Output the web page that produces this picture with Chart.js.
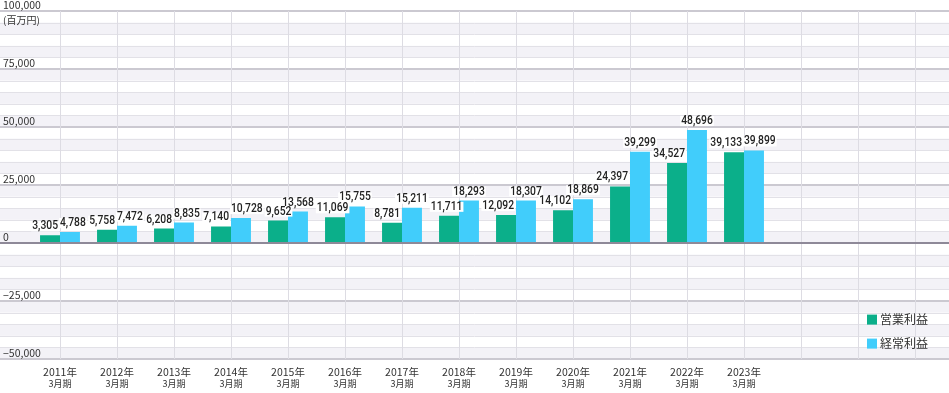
<!DOCTYPE html>
<html><head><meta charset="utf-8">
<script src="https://cdn.jsdelivr.net/npm/chart.js@4/dist/chart.umd.min.js"></script>
<style>html,body{margin:0;padding:0;background:#fff;}#wrap{width:949px;height:393px;position:relative;}</style>
</head><body><div id="wrap"><canvas id="c"></canvas></div>
<script>
// ---- data ----
const yearLabels = ['2011年','2012年','2013年','2014年','2015年','2016年','2017年','2018年','2019年','2020年','2021年','2022年','2023年','','',''];
const periodLabels = ['3月期','3月期','3月期','3月期','3月期','3月期','3月期','3月期','3月期','3月期','3月期','3月期','3月期','','',''];
const operatingProfit = [3305,5758,6208,7140,9652,11069,8781,11711,12092,14102,24397,34527,39133];
const ordinaryProfit  = [4788,7472,8835,10728,13568,15755,15211,18293,18307,18869,39299,48696,39899];
const seriesNames = ['営業利益','経常利益'];
const yMin = -50000, yMax = 100000, yMajorStep = 25000, yMinorStep = 5000;
const unitLabel = '(百万円)';

const GREEN = '#0baf8a', BLUE = '#41cdfb';
const AXIS_FONT = '"Noto Sans CJK JP","Noto Sans",sans-serif';
const LABEL_FONT = 'Roboto,"Noto Sans",sans-serif';
const LABEL_SQUEEZE = 0.86;

const bgPlugin = {
  id:'bgGrid',
  beforeDraw(chart){
    const {ctx} = chart, y = chart.scales.y, W = chart.width;
    ctx.save();
    let idx = 0;
    for (let v = yMax; v > yMin; v -= yMinorStep, idx++) {
      if (idx % 2 === 1) {
        const t = y.getPixelForValue(v), b = y.getPixelForValue(v - yMinorStep);
        ctx.fillStyle = '#f3f2f7';
        ctx.fillRect(0, t, W, b - t);
      }
    }
    for (let v = yMin; v <= yMax; v += yMinorStep) {
      const p = y.getPixelForValue(v);
      const major = v % yMajorStep === 0;
      ctx.strokeStyle = major ? '#cbc9d1' : '#e2e1e7';
      ctx.lineWidth = major ? 2 : 1;
      const py = major ? Math.round(p) : Math.round(p) + 0.5;
      ctx.beginPath(); ctx.moveTo(0, py); ctx.lineTo(W, py); ctx.stroke();
    }
    ctx.fillStyle = '#333';
    ctx.font = '10px ' + AXIS_FONT;
    ctx.textAlign = 'left'; ctx.textBaseline = 'middle';
    ctx.fillText(unitLabel, 3, y.getPixelForValue(yMax) + 9);
    ctx.restore();
  },
  afterDatasetsDraw(chart){
    const {ctx} = chart, y = chart.scales.y, W = chart.width;
    ctx.save();
    // zero line
    const z = Math.round(y.getPixelForValue(0));
    ctx.strokeStyle = '#8e8998'; ctx.lineWidth = 2;
    ctx.beginPath(); ctx.moveTo(0, z); ctx.lineTo(W, z); ctx.stroke();

    // data labels
    ctx.font = '500 12px ' + LABEL_FONT;
    ctx.textBaseline = 'middle'; ctx.textAlign = 'left';
    const m0 = chart.getDatasetMeta(0).data, m1 = chart.getDatasetMeta(1).data;
    const d0 = chart.data.datasets[0].data, d1 = chart.data.datasets[1].data;
    const GLYPH_H = 9;
    const all = [];
    let prev = null;
    for (let i = 0; i < d0.length; i++) {
      const b0 = m0[i], b1 = m1[i];
      if (!b0 || !b1 || d0[i] == null || d1[i] == null) continue;
      const mid = (b0.x + b1.x) / 2;
      const t0 = d0[i].toLocaleString('en-US'), t1 = d1[i].toLocaleString('en-US');
      const w0 = ctx.measureText(t0).width * LABEL_SQUEEZE, w1 = ctx.measureText(t1).width * LABEL_SQUEEZE;
      const g = {txt: t0, w: w0, x: Math.min(b0.x - w0 / 2, mid - 2 - w0), bottom: b0.y - 3};
      if (prev && Math.abs(g.bottom - prev.bottom) < GLYPH_H && g.x < prev.x + prev.w + 3) g.x = prev.x + prev.w + 3;
      const bl = {txt: t1, w: w1, x: b1.x - w1 / 2, bottom: b1.y - 3};
      if (Math.abs(g.bottom - bl.bottom) < GLYPH_H && bl.x < g.x + g.w + 2) bl.x = g.x + g.w + 2;
      all.push(g, bl);
      prev = bl;
    }
    all.forEach(it => { ctx.fillStyle = '#fff'; ctx.fillRect(it.x - 1, it.bottom - 11, it.w + 2, 10); });
    ctx.fillStyle = '#222';
    all.forEach(it => {
      ctx.save();
      ctx.translate(it.x, it.bottom - 6);
      ctx.scale(LABEL_SQUEEZE, 1);
      ctx.fillText(it.txt, 0, 0);
      ctx.restore();
    });

    // legend
    const ds = chart.data.datasets;
    const lx = chart.chartArea.right - 76.5;
    ctx.font = '12px ' + AXIS_FONT;
    ctx.textBaseline = 'middle'; ctx.textAlign = 'left';
    ds.forEach((d, k) => {
      const ly = y.getPixelForValue(-30000) + 2 + k * 24;
      ctx.fillStyle = d.backgroundColor;
      ctx.fillRect(lx, ly, 10, 10);
      ctx.fillStyle = '#333';
      ctx.fillText(d.label, lx + 13, ly + 5);
    });
    ctx.restore();
  }
};

new Chart(document.getElementById('c'), {
  type: 'bar',
  data: {
    labels: yearLabels,
    datasets: [
      {label: seriesNames[0], data: operatingProfit, backgroundColor: GREEN, borderWidth: 0},
      {label: seriesNames[1], data: ordinaryProfit, backgroundColor: BLUE, borderWidth: 0}
    ]
  },
  options: {
    responsive: true, maintainAspectRatio: false, animation: false,
    layout: {padding: {left: 3, right: 5.5, top: 11, bottom: 0}},
    datasets: {bar: {categoryPercentage: 0.7, barPercentage: 1.0}},
    plugins: {legend: {display: false}, tooltip: {enabled: false}},
    scales: {
      x: {
        type: 'category', position: 'bottom', offset: true,
        grid: {offset: false, color: '#dddce3', lineWidth: 1, drawTicks: false},
        border: {display: false},
        ticks: {autoSkip: false, maxRotation: 0, padding: 7, color: '#333', font: {family: AXIS_FONT, size: 10.5}},
        afterFit: s => { s.height = 18; }
      },
      x2: {
        type: 'category', position: 'bottom', offset: true, labels: periodLabels,
        grid: {display: false, drawTicks: false}, border: {display: false},
        ticks: {autoSkip: false, maxRotation: 0, padding: 1, color: '#333', font: {family: AXIS_FONT, size: 9}},
        afterFit: s => { s.height = 16; }
      },
      y: {
        position: 'left', min: yMin, max: yMax,
        grid: {display: false, drawTicks: false}, border: {display: false},
        ticks: {stepSize: yMajorStep, mirror: true, crossAlign: 'near', labelOffset: -6, padding: -28.5, color: '#333',
                font: {family: AXIS_FONT, size: 10.5},
                callback: v => v < 0 ? '−' + Math.abs(v).toLocaleString('en-US') : v.toLocaleString('en-US')},
        afterFit: s => { s.width = 28.5; }
      }
    }
  },
  plugins: [bgPlugin]
});
</script></body></html>
